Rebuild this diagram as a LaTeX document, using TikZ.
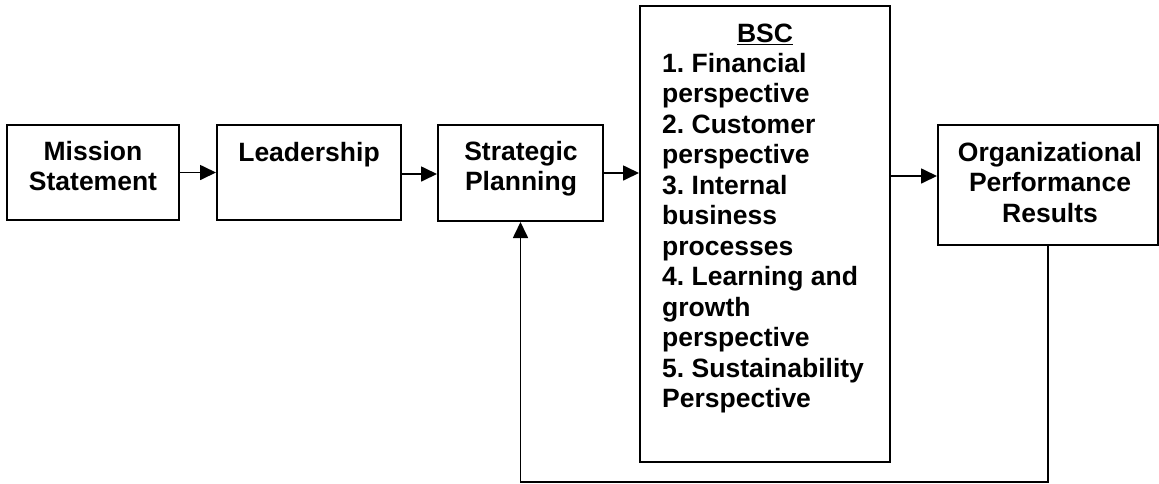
\documentclass[tikz,border=0pt]{standalone}
\usepackage{fontspec}
\setmainfont{Liberation Sans}
\usetikzlibrary{arrows.meta}
\newcommand{\firstline}{\rule{0pt}{20pt}}
\frenchspacing
\begin{document}
\begin{tikzpicture}[x=1pt,y=-1pt,
  box/.style={draw=black, line width=2pt, fill=white, inner sep=0pt, rectangle},
  txt/.style={font=\bfseries\fontsize{26.5}{30.5}\selectfont, inner sep=0pt, align=center, anchor=north},
  listtxt/.style={font=\bfseries\fontsize{26.5}{30.5}\selectfont, inner sep=0pt, align=left, anchor=north west},
  arr/.style={draw=black, line width=1.7pt, -{Triangle[length=16pt,width=15pt]}}
]
\useasboundingbox (0,0) rectangle (1159,483);

% boxes
\node[box, minimum width=172pt, minimum height=95pt]  (mission)   at (93,172.5)  {};
\node[box, minimum width=184pt, minimum height=95pt]  (leader)    at (309,172.5) {};
\node[box, minimum width=165pt, minimum height=96pt]  (strategic) at (520.5,173) {};
\node[box, minimum width=250pt, minimum height=456pt] (bsc)       at (765,234)   {};
\node[box, minimum width=220pt, minimum height=120pt] (org)       at (1048,185)  {};

% box texts
\node[txt] (missiontext)   at (93,140)   {\firstline Mission\\Statement};
\node[txt] (leadertext)    at (309,141)  {\firstline Leadership};
\node[txt] (strategictext) at (521,140)  {\firstline Strategic\\Planning};
\node[txt] (orgtext)       at (1050,141) {\firstline Organizational\\Performance\\Results};
\node[txt] (bsctitle)      at (765,22)   {\firstline\underline{BSC}};
\node[listtxt] (bsclist)   at (662,52)   {\firstline 1. Financial\\perspective\\2. Customer\\perspective\\3. Internal\\business\\processes\\4. Learning and\\growth\\perspective\\5. Sustainability\\Perspective};

% flow
\coordinate (leaderout) at ([yshift=-1.5pt]leader.east);
\coordinate (orgin) at ([yshift=9pt]org.west);
\draw[arr] (mission.east) -- (leader.west);
\draw[arr] (leaderout) -- (leaderout -| strategic.west);
\draw[arr] (strategic.east) -- (strategic.east -| bsc.west);
\draw[arr] (bsc.east |- orgin) -- (orgin);

% feedback loop
\coordinate (loopbase) at (0,482);
\draw[arr] (org.south) -- (org.south |- loopbase) -| (strategic.south);
\end{tikzpicture}
\end{document}
